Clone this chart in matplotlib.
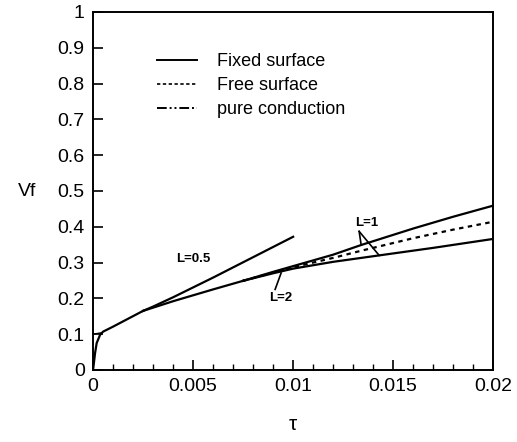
import matplotlib.pyplot as plt
from matplotlib.lines import Line2D
from matplotlib.ticker import MultipleLocator

plt.rcParams['font.family'] = ['Liberation Sans', 'DejaVu Sans']

# shared early part (all cases coincide)
tau_start = [0, 0.0001, 0.00018, 0.00035, 0.0005, 0.001, 0.0025]
vf_start = [0, 0.047, 0.075, 0.098, 0.107, 0.121, 0.165]

# fixed surface, L=0.5
tau_l05 = [0.0025, 0.003, 0.004, 0.006, 0.008, 0.01]
vf_l05 = [0.165, 0.177, 0.203, 0.258, 0.315, 0.372]

# common bundle before the curves split
tau_bundle = [0.0025, 0.004, 0.006, 0.0075]
vf_bundle = [0.165, 0.192, 0.225, 0.249]

# fixed surface, L=1 (upper)
tau_fix1 = [0.0075, 0.009, 0.01, 0.012, 0.0134, 0.016, 0.018, 0.02]
vf_fix1 = [0.249, 0.274, 0.290, 0.322, 0.349, 0.395, 0.428, 0.459]

# free surface, L=1
tau_free1 = [0.0075, 0.009, 0.01, 0.012, 0.0134, 0.016, 0.018, 0.02]
vf_free1 = [0.249, 0.272, 0.287, 0.313, 0.333, 0.368, 0.392, 0.414]

# lower solid curve
tau_low = [0.0075, 0.009, 0.01, 0.012, 0.0143, 0.017, 0.02]
vf_low = [0.249, 0.270, 0.283, 0.302, 0.320, 0.341, 0.366]

# pure conduction start
tau_cond = [0, 0.00045]
vf_cond = [0.1, 0.104]

fig = plt.figure(figsize=(5.17, 4.42), dpi=100)
ax = fig.add_axes([0.180, 0.163, 0.774, 0.810])

lw = 1.6
ax.plot(tau_start, vf_start, color='black', lw=lw)
ax.plot(tau_l05, vf_l05, color='black', lw=lw)
ax.plot(tau_bundle, vf_bundle, color='black', lw=lw)
ax.plot(tau_fix1, vf_fix1, color='black', lw=lw)
ax.plot(tau_free1, vf_free1, color='black', lw=lw, ls=(0, (2, 2)))
ax.plot(tau_low, vf_low, color='black', lw=lw)
ax.plot(tau_cond, vf_cond, color='black', lw=1.0)

ax.set_xlim(0, 0.02)
ax.set_ylim(0, 1)
ax.xaxis.set_minor_locator(MultipleLocator(0.001))
ax.set_xticks([0, 0.005, 0.01, 0.015, 0.02])
ax.set_xticklabels(['0', '0.005', '0.01', '0.015', '0.02'])
ax.set_yticks([i / 10 for i in range(11)])
ax.set_yticklabels(['0', '0.1', '0.2', '0.3', '0.4', '0.5', '0.6', '0.7', '0.8', '0.9', '1'])
ax.tick_params(which='major', direction='in', length=7, width=1.2, labelsize=14, pad=6)
ax.tick_params(which='minor', direction='in', length=4, width=1.0)
for s in ax.spines.values():
    s.set_linewidth(1.4)

ax.set_xlabel('τ', fontsize=15, labelpad=14)
ax.set_ylabel('Vf', fontsize=14, rotation=0)
ax.yaxis.set_label_coords(-0.165, 0.475)

handles = [
    Line2D([], [], color='black', lw=1.4),
    Line2D([], [], color='black', lw=1.2, ls=(0, (2, 1.5))),
    Line2D([], [], color='black', lw=1.4, ls=(0, (5, 1.5, 1, 1.5, 1, 1.5))),
]
ax.legend(handles, ['Fixed surface', 'Free surface', 'pure conduction'],
          loc='upper left', bbox_to_anchor=(0.12, 0.93), frameon=False,
          fontsize=13, handlelength=2.2, handletextpad=1.1, labelspacing=0.38)

ax.text(0.005, 0.31, 'L=0.5', fontsize=9.5, fontweight='bold', ha='center', va='center')
ax.text(0.0137, 0.41, 'L=1', fontsize=9.5, fontweight='bold', ha='center', va='center')
ax.text(0.0094, 0.2, 'L=2', fontsize=9.5, fontweight='bold', ha='center', va='center')
ax.plot([0.0133, 0.0134], [0.387, 0.349], color='black', lw=1.2)
ax.plot([0.0133, 0.0143], [0.387, 0.320], color='black', lw=1.2)
ax.plot([0.0091, 0.0094], [0.225, 0.271], color='black', lw=1.2)

fig.savefig('out.png', dpi=100)
